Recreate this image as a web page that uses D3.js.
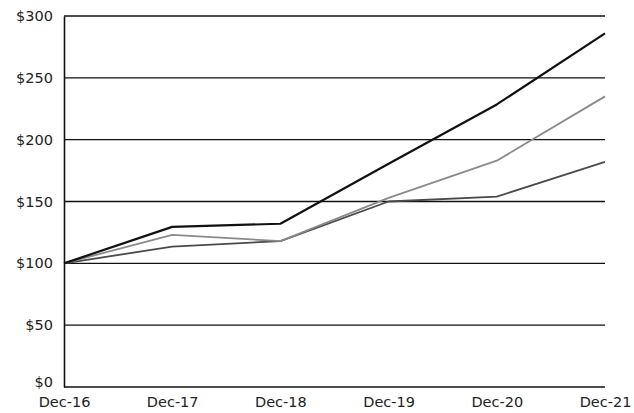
<!DOCTYPE html>
<html>
<head>
<meta charset="utf-8">
<script src="https://cdn.jsdelivr.net/npm/d3@7"></script>
<style>
  html, body { margin: 0; padding: 0; background: #fff; }
  svg text { font-family: "DejaVu Sans", "Liberation Sans", sans-serif; fill: #222; }
</style>
</head>
<body>
<svg id="chart" width="634" height="413"></svg>
<script>
// Cumulative value of a $100 investment, Dec-16 to Dec-21
const periods = ["Dec-16", "Dec-17", "Dec-18", "Dec-19", "Dec-20", "Dec-21"];
const seriesA = [100, 129.5, 132, 180.5, 228.5, 286];
const seriesB = [100, 123, 118, 153, 183, 235];
const seriesC = [100, 113.5, 118, 150, 154, 182];
const yTicks = [0, 50, 100, 150, 200, 250, 300];

const svg = d3.select("#chart");
const margin = { top: 16, right: 29, bottom: 26, left: 64 };
const W = 634, H = 413;

const x = d3.scalePoint().domain(periods).range([margin.left, W - margin.right]);
const y = d3.scaleLinear().domain([0, 300]).range([H - margin.bottom, margin.top]);

// horizontal gridlines
svg.append("g")
  .selectAll("line")
  .data(yTicks)
  .join("line")
  .attr("x1", margin.left)
  .attr("x2", W - margin.right)
  .attr("y1", d => y(d))
  .attr("y2", d => y(d))
  .attr("stroke", "#111")
  .attr("stroke-width", 1.3);

// y axis
const yAxis = d3.axisLeft(y).tickValues(yTicks).tickSize(0).tickPadding(11)
  .tickFormat(d => "$" + d);
const gy = svg.append("g").attr("transform", `translate(${margin.left},0)`).call(yAxis);
gy.select(".domain").attr("stroke", "#111").attr("stroke-width", 1.6);
gy.selectAll("text").attr("font-size", 14.5);
// lift the bottom label clear of the category labels
gy.selectAll(".tick").filter(d => d === 0).select("text").attr("dy", "-0.05em");

// x axis
const xAxis = d3.axisBottom(x).tickSize(0).tickPadding(10);
const gx = svg.append("g").attr("transform", `translate(0,${H - margin.bottom})`).call(xAxis);
gx.select(".domain").remove();
gx.selectAll("text").attr("font-size", 14.5);

// lines
const line = d3.line().x((d, i) => x(periods[i])).y(d => y(d));
const series = [
  { values: seriesC, color: "#4a4a4a", width: 1.8 },
  { values: seriesB, color: "#8a8a8a", width: 1.8 },
  { values: seriesA, color: "#111111", width: 2.2 }
];
svg.append("g")
  .selectAll("path")
  .data(series)
  .join("path")
  .attr("d", d => line(d.values))
  .attr("fill", "none")
  .attr("stroke", d => d.color)
  .attr("stroke-width", d => d.width)
  .attr("stroke-linejoin", "round");
</script>
</body>
</html>
